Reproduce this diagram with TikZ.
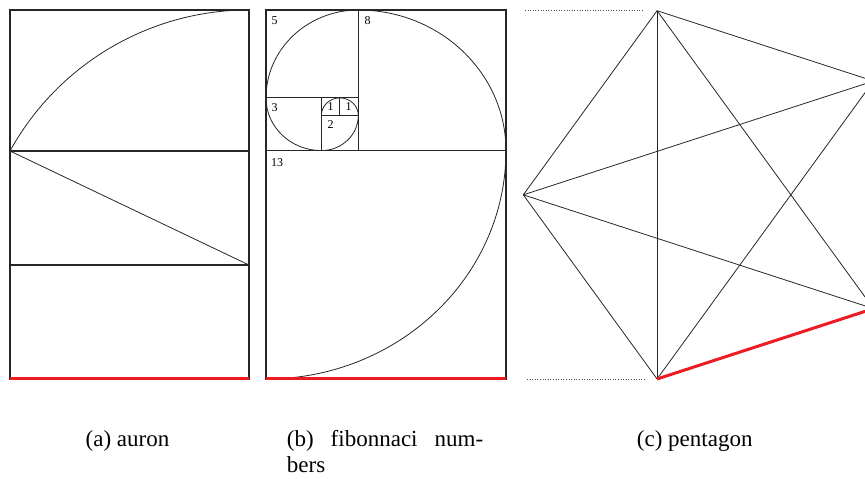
\documentclass[tikz,border=0pt]{standalone}
\usepackage{fontspec}
\setmainfont{Liberation Serif}
\usetikzlibrary{calc}
\begin{document}
\begin{tikzpicture}[x=1pt,y=1pt,
  frame/.style={draw=black!85, line width=1.1pt},
  thinline/.style={draw=black!85, line width=0.8pt},
  redline/.style={draw={rgb,255:red,237;green,28;blue,36}, line width=3pt},
  dotline/.style={draw=black!70, dotted, line width=0.6pt},
  numlabel/.style={inner sep=0pt, font=\fontsize{12}{12}\selectfont},
  caption/.style={inner sep=0pt, anchor=base, font=\fontsize{23}{27}\selectfont}]
\useasboundingbox (0,0) rectangle (865,479);
\clip (0,0) rectangle (865,479);

% ---------- (a) auron ----------
\coordinate (aBL) at (10,100);
\coordinate (aBR) at (249,100);
\coordinate (aTL) at (10,469);
\coordinate (aTR) at (249,469);
\coordinate (aM1L) at (10,328);
\coordinate (aM1R) at (249,328);
\coordinate (aM2L) at (10,214);
\coordinate (aM2R) at (249,214);
\draw[frame] (aBL) rectangle (aTR);
\draw[frame] (aM1L) -- (aM1R);
\draw[frame] (aM2L) -- (aM2R);
\draw[thinline] (aM1L) -- (aM2R);
\draw[thinline] (aM1L) arc[start angle=151.1, end angle=90, radius=273];
\draw[redline] (aBL) -- (aBR);

% ---------- (b) fibonacci ----------
\begin{scope}[shift={(266,100)}, xscale=18.46, yscale=17.57]
  \draw[frame] (0,0) rectangle (13,21);
  \draw[frame] (0,13) -- (13,13);
  \draw[frame] (5,13) -- (5,21);
  \draw[frame] (0,16) -- (5,16);
  \draw[frame] (3,13) -- (3,16);
  \draw[frame] (3,15) -- (5,15);
  \draw[frame] (4,15) -- (4,16);
  \draw[thinline] (3,15) arc[start angle=180, end angle=0, radius=1]
                         arc[start angle=0, end angle=-90, radius=2]
                         arc[start angle=-90, end angle=-180, radius=3]
                         arc[start angle=180, end angle=90, radius=5]
                         arc[start angle=90, end angle=0, radius=8]
                         arc[start angle=0, end angle=-90, radius=13];
\end{scope}
\draw[redline] (266,100) -- (506,100);
\node[numlabel] (n5) at (274.5,458.5) {5};
\node[numlabel] (n8) at (367.5,458.5) {8};
\node[numlabel] (n3) at (274.5,371) {3};
\node[numlabel] (n1a) at (330.5,372.5) {1};
\node[numlabel] (n1b) at (348.5,372.5) {1};
\node[numlabel] (n2) at (330.5,354) {2};
\node[numlabel] (n13) at (277,316) {13};

% ---------- (c) pentagon ----------
\coordinate (pc) at (716.9,284.15);
\coordinate (pT) at ($(pc)+(108:193.6)$);
\coordinate (pL) at ($(pc)+(180:193.6)$);
\coordinate (pB) at ($(pc)+(252:193.6)$);
\coordinate (pRB) at ($(pc)+(324:193.6)$);
\coordinate (pRT) at ($(pc)+(36:193.6)$);
\draw[thinline] (pT) -- (pL) -- (pB);
\draw[thinline] (pT) -- (pRT) -- (pRB);
\draw[thinline] (pT) -- (pB);
\draw[thinline] (pT) -- (pRB);
\draw[thinline] (pL) -- (pRT);
\draw[thinline] (pL) -- (pRB);
\draw[thinline] (pB) -- (pRT);
\draw[redline] (pB) -- (pRB);
\coordinate (dT1) at (525,468.3);
\coordinate (dT2) at (643,468.3);
\coordinate (dB1) at (527,100);
\coordinate (dB2) at (645,100);
\draw[dotline] (dT1) -- (dT2);
\draw[dotline] (dB1) -- (dB2);

% ---------- captions ----------
\node[caption] (capa) at (127.5,32) {(a) auron};
\node[caption, anchor=base west] (capb1) at (286.7,32) {\hbox to 196.3pt{(b)\hfill fibonnaci\hfill num-}};
\node[caption, anchor=base west] (capb2) at (286.7,6) {bers};
\node[caption] (capc) at (694.7,32) {(c) pentagon};
\end{tikzpicture}
\end{document}
